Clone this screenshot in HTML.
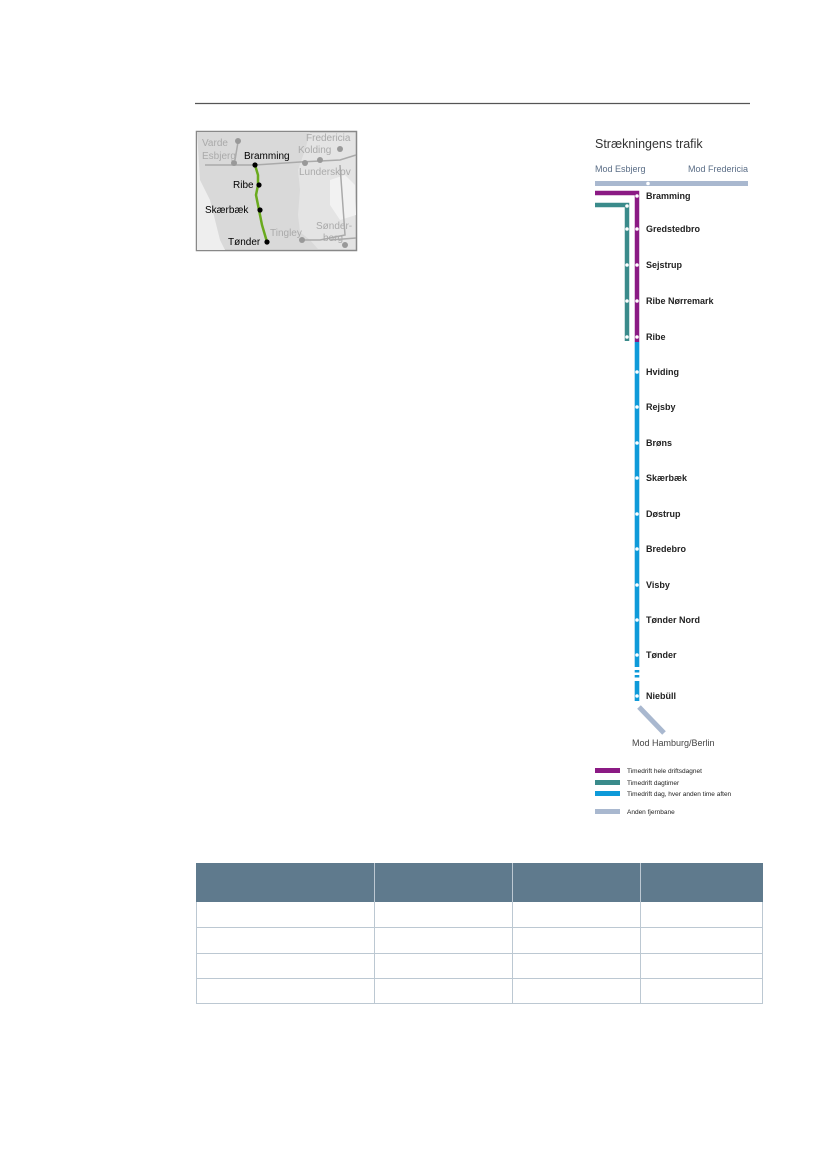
<!DOCTYPE html>
<html><head><meta charset="utf-8"><style>
html,body{margin:0;padding:0;background:#fff;}
body{width:827px;height:1169px;position:relative;overflow:hidden;font-family:"Liberation Sans",sans-serif;}
</style></head><body>
<svg width="827" height="1169" style="position:absolute;left:0;top:0" font-family="Liberation Sans, sans-serif">
<line x1="195" y1="103.5" x2="750" y2="103.5" stroke="#555" stroke-width="1.2"/>
<!-- map -->
<rect x="196.5" y="131.5" width="160" height="119" fill="#e4e4e4" stroke="#888" stroke-width="1.5"/>
<path d="M197,132 L310,132 L305,150 L298,170 L300,190 L298,215 L300,232 L310,240 L318,249 L197,249 Z" fill="#d9d9d9"/>
<path d="M197,132 L200,180 L210,200 L220,240 L225,250 L197,250 Z" fill="#eeeeee"/>
<path d="M330,180 L345,175 L355,185 L356,215 L340,220 L330,205 Z" fill="#f2f2f2"/>
<g stroke="#aaa" stroke-width="1.5" fill="none">
<path d="M205,165 L255,165 L300,162 L340,160 L356,155"/>
<path d="M238,142 L235,160"/>
<path d="M340,165 L345,235 L320,240 L300,240"/>
<path d="M330,240 L356,238"/>
</g>
<g fill="#999"><circle cx="238" cy="141" r="3"/><circle cx="234" cy="163" r="3"/><circle cx="305" cy="163" r="3"/><circle cx="320" cy="160" r="3"/><circle cx="340" cy="149" r="3"/><circle cx="302" cy="240" r="3"/><circle cx="345" cy="245" r="3"/></g>
<path d="M255,165 L258,175 L258,185 L256,195 L259,210 L262,225 L267,242" stroke="#6aaa1e" stroke-width="2.5" fill="none"/>
<g fill="#000"><circle cx="255" cy="165" r="2.6"/><circle cx="259" cy="185" r="2.6"/><circle cx="260" cy="210" r="2.6"/><circle cx="267" cy="242" r="2.6"/></g>
<g font-size="10" fill="#aaa"><text x="202" y="146">Varde</text><text x="202" y="159">Esbjerg</text><text x="306" y="141">Fredericia</text><text x="298" y="153">Kolding</text><text x="299" y="175">Lunderskov</text><text x="270" y="236">Tingley</text><text x="316" y="229">Sønder-</text><text x="323" y="241">borg</text></g>
<g font-size="10" fill="#000"><text x="244" y="159">Bramming</text><text x="233" y="188">Ribe</text><text x="205" y="213">Skærbæk</text><text x="228" y="245">Tønder</text></g>
<!-- route -->
<text x="595" y="148" font-size="12.5" fill="#333">Strækningens trafik</text>
<text x="595" y="172" font-size="9" fill="#5a6d86">Mod Esbjerg</text>
<text x="748" y="172" font-size="9" fill="#5a6d86" text-anchor="end">Mod Fredericia</text>
<rect x="595" y="181" width="153" height="5" fill="#a9b8cf"/>
<circle cx="648" cy="183.5" r="1.8" fill="#fff"/>
<path d="M595,193 L637,193 L637,342" stroke="#8b1a84" stroke-width="4.5" fill="none"/>
<path d="M595,205 L627,205 L627,341" stroke="#3a8b8b" stroke-width="4.5" fill="none"/>
<rect x="634.7" y="342" width="4.6" height="325" fill="#0e9ad9"/>
<rect x="634.7" y="670" width="4.6" height="2.5" fill="#0e9ad9"/>
<rect x="634.7" y="675" width="4.6" height="2.5" fill="#0e9ad9"/>
<rect x="634.7" y="681" width="4.6" height="20" fill="#0e9ad9"/>
<path d="M639,707 L664,733" stroke="#a9b8cf" stroke-width="5"/>
<g fill="#fff">
<circle cx="637" cy="196" r="1.8"/><circle cx="637" cy="229" r="1.8"/><circle cx="637" cy="265" r="1.8"/><circle cx="637" cy="301" r="1.8"/><circle cx="637" cy="337" r="1.8"/>
<circle cx="627" cy="206" r="1.8"/><circle cx="627" cy="229" r="1.8"/><circle cx="627" cy="265" r="1.8"/><circle cx="627" cy="301" r="1.8"/><circle cx="627" cy="337" r="1.8"/>
<circle cx="637" cy="372" r="1.8"/><circle cx="637" cy="407" r="1.8"/><circle cx="637" cy="443" r="1.8"/><circle cx="637" cy="478" r="1.8"/><circle cx="637" cy="514" r="1.8"/><circle cx="637" cy="549" r="1.8"/><circle cx="637" cy="585" r="1.8"/><circle cx="637" cy="620" r="1.8"/><circle cx="637" cy="655" r="1.8"/><circle cx="637" cy="696" r="1.8"/>
</g>
<g font-size="9" font-weight="bold" fill="#222">
<text x="646" y="199">Bramming</text><text x="646" y="232">Gredstedbro</text><text x="646" y="268">Sejstrup</text><text x="646" y="304">Ribe Nørremark</text><text x="646" y="340">Ribe</text>
<text x="646" y="375">Hviding</text><text x="646" y="410">Rejsby</text><text x="646" y="446">Brøns</text><text x="646" y="481">Skærbæk</text><text x="646" y="517">Døstrup</text><text x="646" y="552">Bredebro</text><text x="646" y="588">Visby</text><text x="646" y="623">Tønder Nord</text><text x="646" y="658">Tønder</text><text x="646" y="699">Niebüll</text>
</g>
<text x="632" y="746" font-size="9" fill="#444">Mod Hamburg/Berlin</text>
<rect x="595" y="768" width="25" height="5" fill="#8b1a84"/>
<rect x="595" y="780" width="25" height="5" fill="#3a8b8b"/>
<rect x="595" y="791" width="25" height="5" fill="#0e9ad9"/>
<rect x="595" y="809" width="25" height="5" fill="#a9b8cf"/>
<g font-size="6.5" fill="#222"><text x="627" y="773">Timedrift hele driftsdagnet</text><text x="627" y="785">Timedrift dagtimer</text><text x="627" y="796">Timedrift dag, hver anden time aften</text><text x="627" y="814">Anden fjernbane</text></g>
<!-- table -->
<rect x="196" y="863" width="567" height="39" fill="#5f7a8d"/>
<g stroke="#bcc8d2" stroke-width="1">
<line x1="196" y1="927.5" x2="763" y2="927.5"/><line x1="196" y1="953.5" x2="763" y2="953.5"/><line x1="196" y1="978.5" x2="763" y2="978.5"/><line x1="196" y1="1003.5" x2="763" y2="1003.5"/>
<line x1="196.5" y1="902" x2="196.5" y2="1004"/><line x1="762.5" y1="902" x2="762.5" y2="1004"/>
<line x1="374.5" y1="863" x2="374.5" y2="1004"/><line x1="512.5" y1="863" x2="512.5" y2="1004"/><line x1="640.5" y1="863" x2="640.5" y2="1004"/>
</g>
</svg>
</body></html>
